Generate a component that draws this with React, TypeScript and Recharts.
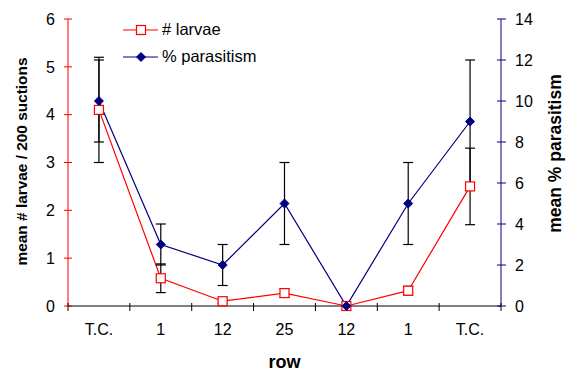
import { LineChart, Line, XAxis, YAxis, ErrorBar, Legend } from "recharts"

const rows = ["T.C.", "1", "12", "25", "12", "1", "T.C."]
const larvae = [4.1, 0.58, 0.1, 0.27, 0, 0.32, 2.5]
const larvaeErr = [1.1, 0.3, 0.05, 0.09, 0, 0.09, 0.8]
const parasitism = [10, 3, 2, 5, 0, 5, 9]
const parasitismErr = [2, 1, 1, 2, 0, 2, 3]
const larvaeTicks = [0, 1, 2, 3, 4, 5, 6]
const parasitismTicks = [0, 2, 4, 6, 8, 10, 12, 14]

const RED = "#ff0000"
const NAVY = "#000080"
const FONT = "'Liberation Sans', Arial, sans-serif"

// each row sits in the middle of its slot; integer ticks mark slot edges
const data = rows.map((row, i) => ({
  row,
  slot: i + 0.5,
  larvae: larvae[i],
  larvaeErr: larvaeErr[i],
  parasitism: parasitism[i],
  parasitismErr: parasitismErr[i],
}))
const slotTicks = rows.flatMap((_, i) => [i, i + 0.5]).concat(rows.length)

const RowTick = ({ x, y, payload }: any) => {
  const v = payload.value
  if (Number.isInteger(v)) {
    return <line x1={x} x2={x} y1={y - 3} y2={y + 5} stroke="#000" />
  }
  return (
    <text x={x} y={y + 29} textAnchor="middle" fontSize={16} fill="#000" fontFamily={FONT}>
      {rows[Math.floor(v)]}
    </text>
  )
}

const SquareDot = ({ cx, cy }: any) => {
  if (cx == null || cy == null) return null
  return <rect x={cx - 4.5} y={cy - 4.5} width={9} height={9} fill="#fff" stroke={RED} strokeWidth={1.2} />
}

const DiamondDot = ({ cx, cy }: any) => {
  if (cx == null || cy == null) return null
  const r = 4.5
  return <polygon points={`${cx},${cy - r} ${cx + r},${cy} ${cx},${cy + r} ${cx - r},${cy}`} fill={NAVY} stroke={NAVY} />
}

const LeftTitle = ({ viewBox }: any) => {
  const cx = viewBox.x + 21
  const cy = viewBox.y + viewBox.height / 2 - 1
  return (
    <text x={cx} y={cy} transform={`rotate(-90 ${cx} ${cy})`} textAnchor="middle" dominantBaseline="central"
      fontSize={15.4} fontWeight="bold" fontFamily={FONT} fill="#000">
      mean # larvae / 200 suctions
    </text>
  )
}

const RightTitle = ({ viewBox }: any) => {
  const cx = viewBox.x + 54
  const cy = viewBox.y + viewBox.height / 2 - 9
  return (
    <text x={cx} y={cy} transform={`rotate(-90 ${cx} ${cy})`} textAnchor="middle" dominantBaseline="central"
      fontSize={17.5} fontWeight="bold" fontFamily={FONT} fill="#000">
      mean % parasitism
    </text>
  )
}

const RowTitle = ({ viewBox }: any) => (
  <text x={viewBox.x + viewBox.width / 2} y={viewBox.y + 62} textAnchor="middle"
    fontSize={18} fontWeight="bold" fontFamily={FONT} fill="#000">
    row
  </text>
)

const LegendBox = () => (
  <div style={{ fontFamily: FONT, fontSize: 16.5, color: "#000" }}>
    <div style={{ display: "flex", alignItems: "center", height: 27 }}>
      <svg width={40} height={14}>
        <line x1={1} x2={36} y1={7} y2={7} stroke={RED} />
        <SquareDot cx={19} cy={7} />
      </svg>
      <span># larvae</span>
    </div>
    <div style={{ display: "flex", alignItems: "center", height: 27 }}>
      <svg width={40} height={14}>
        <line x1={1} x2={36} y1={7} y2={7} stroke={NAVY} />
        <DiamondDot cx={19} cy={7} />
      </svg>
      <span>% parasitism</span>
    </div>
  </div>
)

export default function App() {
  return (
    <div style={{ position: "absolute", left: 0, top: 0, width: 571, height: 371, background: "#fff" }}>
      <LineChart width={571} height={371} data={data} margin={{ top: 19, right: 0, bottom: 0, left: 0 }}>
        <XAxis
          dataKey="slot"
          type="number"
          domain={[0, rows.length]}
          ticks={slotTicks}
          interval={0}
          tickLine={false}
          tickSize={0}
          tickMargin={0}
          tick={<RowTick />}
          stroke="#000"
          height={65}
          label={{ content: (p: any) => <RowTitle {...p} /> }}
        />
        <YAxis
          yAxisId="larvae"
          domain={[0, 6]}
          ticks={larvaeTicks}
          interval={0}
          width={68}
          stroke={RED}
          tickSize={8}
          tickMargin={5}
          tickLine={{ stroke: RED, transform: "translate(4,0)" }}
          tick={{ fill: "#000", fontSize: 16, fontFamily: FONT }}
          label={{ content: (p: any) => <LeftTitle {...p} /> }}
        />
        <YAxis
          yAxisId="parasitism"
          orientation="right"
          domain={[0, 14]}
          ticks={parasitismTicks}
          interval={0}
          width={70}
          stroke={NAVY}
          tickSize={9}
          tickMargin={5}
          tickLine={{ stroke: NAVY, transform: "translate(-4,0)" }}
          tick={{ fill: "#000", fontSize: 16, fontFamily: FONT }}
          label={{ content: (p: any) => <RightTitle {...p} /> }}
        />
        <Legend
          layout="vertical"
          align="center"
          verticalAlign="middle"
          content={<LegendBox />}
          wrapperStyle={{ left: 122, top: 16, width: "auto", height: "auto" }}
        />
        <Line
          yAxisId="larvae"
          dataKey="larvae"
          name="# larvae"
          stroke={RED}
          strokeWidth={1.2}
          dot={<SquareDot />}
          activeDot={false}
          isAnimationActive={false}
        >
          <ErrorBar dataKey="larvaeErr" width={5} stroke="#000" strokeWidth={1.2} direction="y" />
        </Line>
        <Line
          yAxisId="parasitism"
          dataKey="parasitism"
          name="% parasitism"
          stroke={NAVY}
          strokeWidth={1.2}
          dot={<DiamondDot />}
          activeDot={false}
          isAnimationActive={false}
        >
          <ErrorBar dataKey="parasitismErr" width={5} stroke="#000" strokeWidth={1.2} direction="y" />
        </Line>
      </LineChart>
    </div>
  )
}
